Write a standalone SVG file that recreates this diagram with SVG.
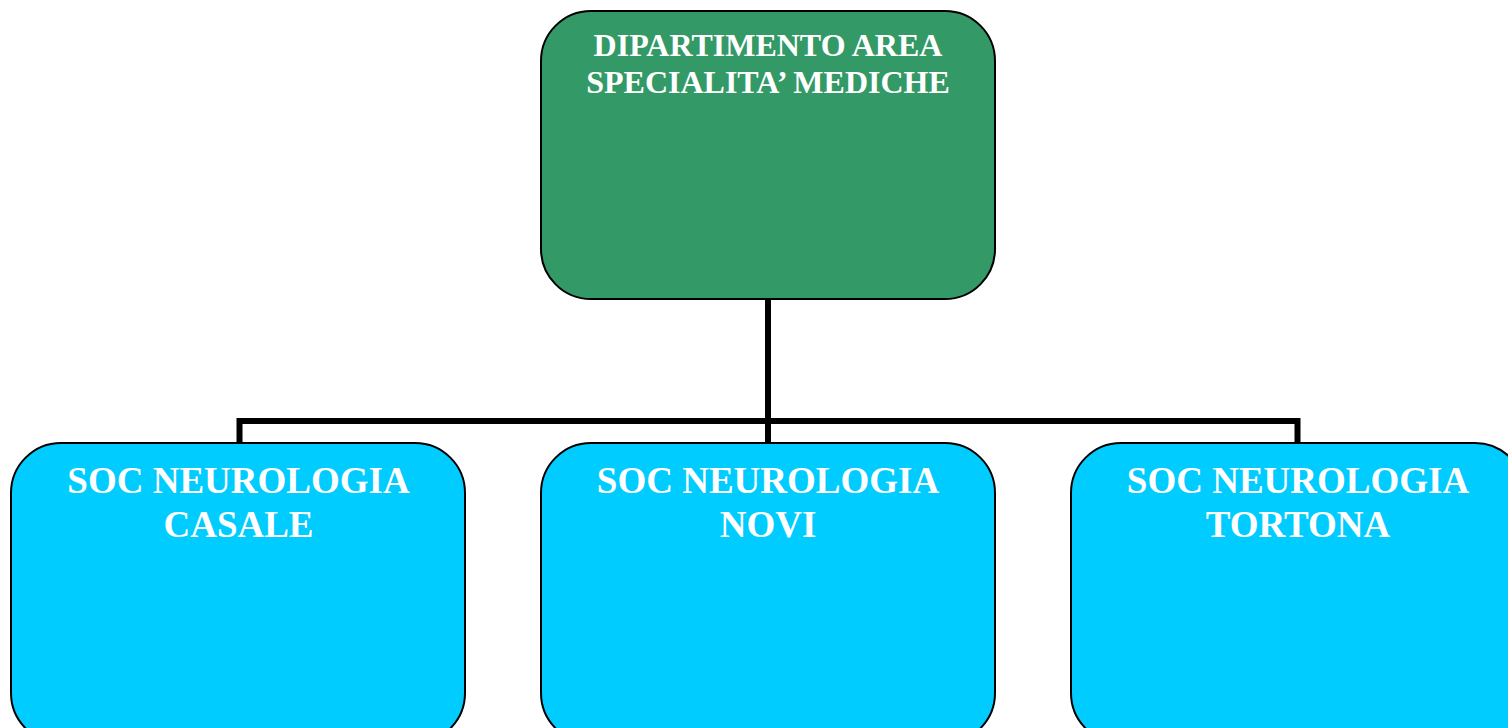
<svg xmlns="http://www.w3.org/2000/svg" width="1508" height="728" viewBox="0 0 1508 728">
  <style>
    .box { stroke: #000; stroke-width: 2; }
    .head { fill: #339966; }
    .unit { fill: #00CCFF; }
    .lbl { font-family: "Liberation Serif", "Times New Roman", serif; font-weight: bold; fill: #fff; text-anchor: middle; }
    .lbl-head { font-size: 32px; }
    .lbl-unit { font-size: 37px; }
    .wire { fill: none; stroke: #000; stroke-width: 6; stroke-linejoin: miter; stroke-linecap: butt; }
  </style>
  <rect width="1508" height="728" fill="#fff"/>

  <g id="connectors">
    <path class="wire" d="M768 299 V443"/>
    <path class="wire" d="M239.5 443 V421 H1297.5 V443"/>
  </g>

  <g id="node-dipartimento">
    <rect class="box head" x="541" y="11" width="454" height="288" rx="50" ry="50"/>
    <text class="lbl lbl-head" x="768" y="56">DIPARTIMENTO AREA</text>
    <text class="lbl lbl-head" x="768" y="93">SPECIALITA’ MEDICHE</text>
  </g>

  <g id="node-casale">
    <rect class="box unit" x="11" y="443" width="454" height="300" rx="50" ry="50"/>
    <text class="lbl lbl-unit" x="238.5" y="493">SOC NEUROLOGIA</text>
    <text class="lbl lbl-unit" x="238.5" y="537">CASALE</text>
  </g>

  <g id="node-novi">
    <rect class="box unit" x="541" y="443" width="454" height="300" rx="50" ry="50"/>
    <text class="lbl lbl-unit" x="768" y="493">SOC NEUROLOGIA</text>
    <text class="lbl lbl-unit" x="768" y="537">NOVI</text>
  </g>

  <g id="node-tortona">
    <rect class="box unit" x="1071" y="443" width="454" height="300" rx="50" ry="50"/>
    <text class="lbl lbl-unit" x="1298" y="493">SOC NEUROLOGIA</text>
    <text class="lbl lbl-unit" x="1298" y="537">TORTONA</text>
  </g>
</svg>
